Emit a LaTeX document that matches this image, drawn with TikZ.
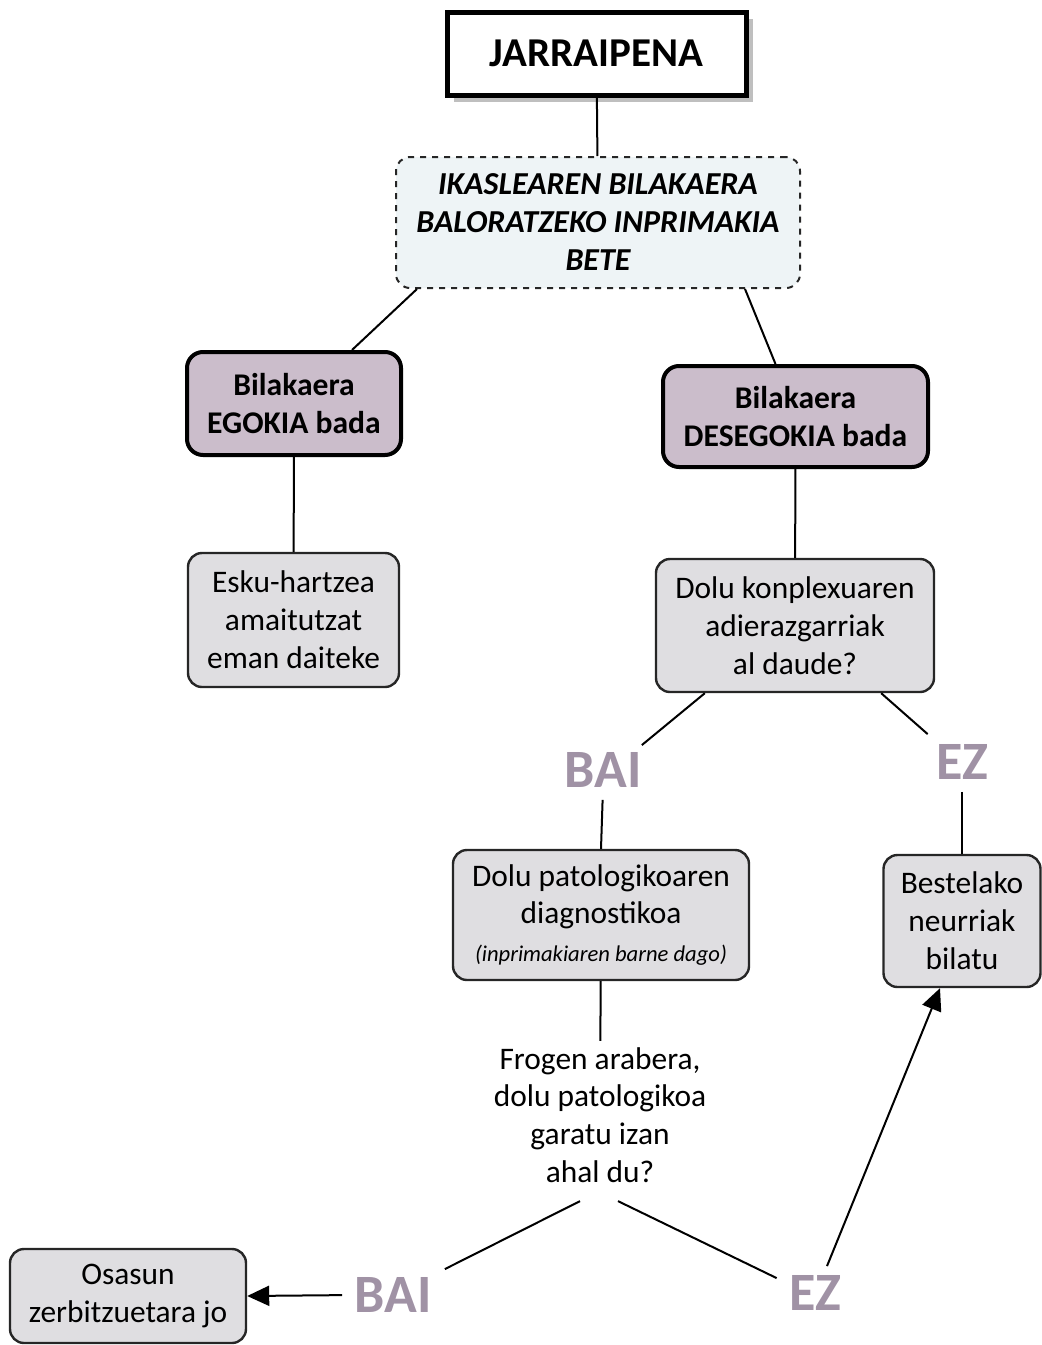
\documentclass[tikz,border=0pt]{standalone}
\usepackage{fontspec}
\setmainfont{Carlito}
\usetikzlibrary{arrows.meta,positioning,calc,shadows}
\definecolor{bdpurple}{HTML}{CBBDCB}
\definecolor{bdgrey}{HTML}{DFDEE1}
\definecolor{bdblue}{HTML}{EEF4F6}
\definecolor{bdlabel}{HTML}{A092A5}

\begin{document}
\begin{tikzpicture}[x=0.5pt,y=-0.5pt,
  txt/.style={font=\fontsize{15.7}{18.9}\selectfont,align=center},
  greybox/.style={txt,draw=black!85,line width=1.2pt,fill=bdgrey,rounded corners=7pt,inner sep=0pt},
  purplebox/.style={txt,font=\fontsize{15.8}{18.9}\selectfont\bfseries,draw=black,line width=2pt,fill=bdpurple,rounded corners=8pt,inner sep=0pt},
  answer/.style={font=\fontsize{27}{30}\selectfont\bfseries,text=bdlabel,inner sep=0pt},
  line/.style={line width=1pt,black},
  arr/.style={line,-{Triangle[length=11pt,width=10pt]}}
]
\useasboundingbox (0,0) rectangle (1041,1345);

% Top
\node[draw=black,line width=2.5pt,fill=white,minimum width=149.5pt,minimum height=41.5pt,
  font=\fontsize{20.5}{24}\selectfont\bfseries,
  drop shadow={shadow xshift=3.5pt,shadow yshift=-3.5pt,fill=black!25,opacity=1}] (jarr) at (596.5,53.5) {JARRAIPENA};
\node[txt,font=\fontsize{16}{19}\selectfont\bfseries\itshape,draw=black!85,dashed,line width=1pt,fill=bdblue,
  rounded corners=7pt,minimum width=202pt,minimum height=65.5pt,inner sep=0pt] (form) at (598,222.5)
  {IKASLEAREN BILAKAERA\\BALORATZEKO INPRIMAKIA\\BETE};

% Left branch
\node[purplebox,minimum width=107pt,minimum height=51.5pt] (egokia) at (294,403.5) {Bilakaera\\EGOKIA bada};
\node[greybox,minimum width=105.5pt,minimum height=67pt] (esku) at (293.5,620) {Esku-hartzea\\amaitutzat\\eman daiteke};

% Right branch
\node[purplebox,minimum width=132.5pt,minimum height=50.5pt] (desegokia) at (795.5,416.5) {Bilakaera\\DESEGOKIA bada};
\node[greybox,minimum width=139pt,minimum height=66.5pt] (konplex) at (795,625.5) {Dolu konplexuaren\\adierazgarriak\\al daude?};
\node[answer] (bai1) at (603,770) {BAI};
\node[answer] (ez1) at (962,762) {EZ};
\node[greybox,minimum width=148pt,minimum height=65pt] (diag) at (601,915)
  {Dolu patologikoaren\\diagnostikoa\\{\fontsize{11.3}{14}\selectfont\itshape(inprimakiaren barne dago)}};
\node[greybox,minimum width=78.5pt,minimum height=66pt] (beste) at (962,921) {Bestelako\\neurriak\\bilatu};
\node[txt,inner sep=3pt] (frogen) at (600,1115) {Frogen arabera,\\dolu patologikoa\\garatu izan\\ahal du?};
\node[answer] (bai2) at (393,1295) {BAI};
\node[answer] (ez2) at (815,1293) {EZ};
\node[greybox,minimum width=118pt,minimum height=47pt] (osasun) at (128,1296) {Osasun\\zerbitzuetara jo};

% Connectors
\draw[line] (jarr) -- (form);
\draw[line] ($(form.south west)+(22,0)$) -- ($(egokia.north)+(58,0)$);
\draw[line] ($(form.south east)+(-56,0)$) -- ($(desegokia.north)+(-20,0)$);
\draw[line] (egokia) -- (esku);
\draw[line] (desegokia) -- (konplex);
\draw[line] ($(konplex.south west)+(50,0)$) -- ($(bai1.north east)+(0,-7)$);
\draw[line] ($(konplex.south east)+(-54,0)$) -- ($(ez1.north west)+(-8,-10)$);
\draw[line,shorten <=6pt] (bai1.south) -- (diag.north);
\draw[line,shorten <=6pt] (ez1.south) -- (beste.north);
\draw[line] (diag) -- (frogen);
\draw[line] ($(frogen.south)+(-20,12)$) -- ($(bai2.north east)+(13,-8)$);
\draw[line] ($(frogen.south)+(18,12)$) -- ($(ez2.north west)+(-12,3)$);
\draw[arr,shorten <=6pt] (bai2.west) -- (osasun.east);
\draw[arr] ($(ez2.north)+(12,-9)$) -- ($(beste.south)+(-22,0)$);
\end{tikzpicture}
\end{document}
